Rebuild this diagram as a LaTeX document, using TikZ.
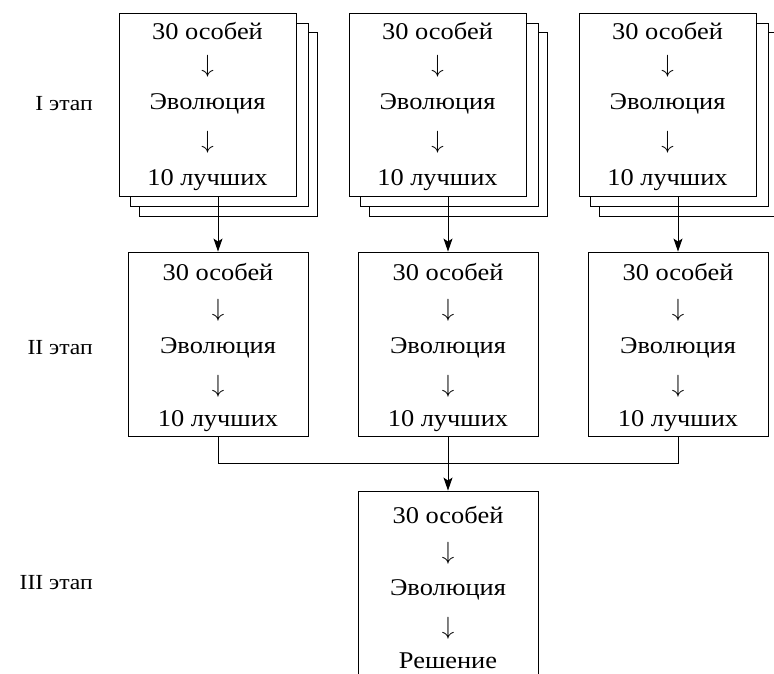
\documentclass[tikz,border=0pt]{standalone}
\usepackage{fontspec}
\setmainfont[FakeStretch=1.1]{Liberation Serif}
\usetikzlibrary{arrows.meta}
\begin{document}
\begin{tikzpicture}[x=1pt,y=-1pt,
  sheet/.style={draw, line width=0.9pt, fill=white},
  frontbox/.style={draw, line width=0.9pt, fill=white, minimum width=177pt, minimum height=183pt, inner sep=0pt},
  midbox/.style={draw, line width=0.9pt, fill=white, minimum width=180pt, minimum height=184pt, inner sep=0pt},
  txt/.style={font=\fontsize{24}{28}\selectfont, inner sep=0pt},
  dn/.style={font=\fontsize{22}{26}\selectfont, inner sep=0pt, scale=1.2},
  lbl/.style={font=\fontsize{21.5}{25}\selectfont, inner sep=0pt, anchor=east},
  conn/.style={line width=0.9pt},
  arr/.style={line width=0.9pt, -{Stealth[length=13pt,width=9pt,inset=3pt]}}
]
\clip (0,0) rectangle (774,674);
\fill[white] (0,0) rectangle (774,674);

% stage labels
\node[lbl] (l1) at (93,104) {I этап};
\node[lbl] (l2) at (93,348) {II этап};
\node[lbl] (l3) at (93,583) {III этап};

% stage I stacks
\foreach \i/\dx in {1/0,2/230,3/460} {
  \draw[sheet] (139+\dx,32) rectangle (317+\dx,216);
  \draw[sheet] (130+\dx,23) rectangle (308+\dx,206);
  \node[frontbox] (f\i) at (207.5+\dx,104.5) {};
  \node[txt] (fa\i) at (207.5+\dx,31) {30 особей};
  \node[dn] (fb\i) at (207.5+\dx,66) {$\downarrow$};
  \node[txt] (fc\i) at (207.5+\dx,104) {Эволюция};
  \node[dn] (fd\i) at (207.5+\dx,142) {$\downarrow$};
  \node[txt] (fe\i) at (207.5+\dx,180) {10 лучших};
}

% stage II boxes
\foreach \i/\dx in {1/0,2/230,3/460} {
  \node[midbox] (m\i) at (218+\dx,344) {};
  \node[txt] (ma\i) at (218+\dx,272) {30 особей};
  \node[dn] (mb\i) at (218+\dx,310) {$\downarrow$};
  \node[txt] (mc\i) at (218+\dx,348) {Эволюция};
  \node[dn] (md\i) at (218+\dx,386) {$\downarrow$};
  \node[txt] (me\i) at (218+\dx,421) {10 лучших};
  \draw[arr] (f\i.south -| m\i.north) -- (m\i.north);
}

% stage III box (open at the bottom, cut by the page)
\node[draw, line width=0.9pt, minimum width=180pt, minimum height=220pt, inner sep=0pt] (b) at (448,601) {};
\node[txt] (ba) at (448,515) {30 особей};
\node[dn] (bb) at (448,553) {$\downarrow$};
\node[txt] (bc) at (448,590) {Эволюция};
\node[dn] (bd) at (448,628) {$\downarrow$};
\node[txt] (be) at (448,661) {Решение};

% merging connectors
\coordinate (j1) at (218,463);
\coordinate (j3) at (678,463);
\draw[conn] (m1.south) -- (j1) -- (j3) -- (m3.south);
\draw[arr] (m2.south) -- (b.north);
\end{tikzpicture}
\end{document}
